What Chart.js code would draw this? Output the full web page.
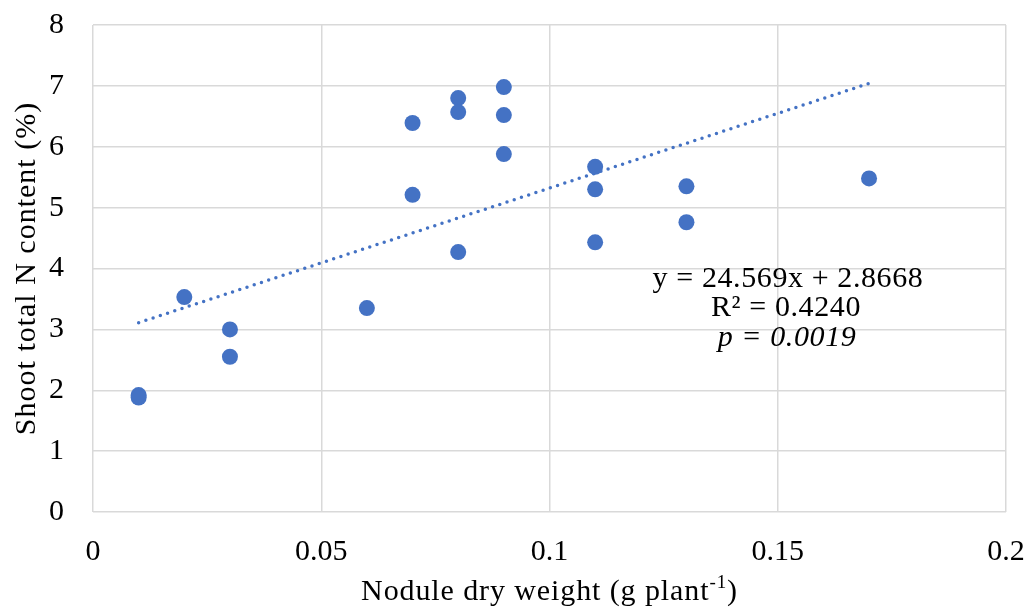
<!DOCTYPE html>
<html>
<head>
<meta charset="utf-8">
<script src="https://cdn.jsdelivr.net/npm/chart.js@4/dist/chart.umd.min.js"></script>
<style>
  html, body { margin:0; padding:0; background:#fff; }
  #wrap { width:1028px; height:608px; position:relative; }
</style>
</head>
<body>
<div id="wrap"><canvas id="chart_scatter"></canvas></div>
<script>
// nodule dry weight (g plant-1) vs shoot total N (%)
var noduleWeight = [0.01, 0.01, 0.02, 0.03, 0.03, 0.06, 0.07, 0.07, 0.08, 0.08,
                    0.08, 0.09, 0.09, 0.09, 0.11, 0.11, 0.11, 0.13, 0.13, 0.17];
var shootN = [1.92, 1.88, 3.53, 3.00, 2.55, 3.35, 6.39, 5.21, 6.80, 6.57,
              4.27, 6.98, 6.52, 5.88, 5.67, 5.30, 4.43, 5.35, 4.76, 5.48];

// linear trendline end points
var trendX = [0.01, 0.17];
var trendY = [3.11, 7.04];

var equationLines = ["y = 24.569x + 2.8668", "R\u00B2 = 0.4240", "p = 0.0019"];
var xTitle = "Nodule dry weight (g plant";
var xTitleSup = "-1";
var yTitle = "Shoot total N content (%)";

var fontFamily = "'Liberation Serif', 'Times New Roman', serif";
var blue = "#4472C4";

var arrayPoints = [];
for (var i = 0; i < noduleWeight.length; i++) {
  arrayPoints.push({x: noduleWeight[i], y: shootN[i]});
}
var arrayTrend = [];
for (var j = 0; j < trendX.length; j++) {
  arrayTrend.push({x: trendX[j], y: trendY[j]});
}

var textPlugin = {
  id: "textPlugin",
  afterDraw: function(chart) {
    var ctx = chart.ctx;
    ctx.save();
    ctx.fillStyle = "#000";

    // x axis title with superscript
    ctx.textBaseline = "alphabetic";
    ctx.textAlign = "left";
    ctx.letterSpacing = "0.9px";
    ctx.font = "30px " + fontFamily;
    var w1 = ctx.measureText(xTitle).width;
    ctx.font = "19px " + fontFamily;
    var w2 = ctx.measureText(xTitleSup).width;
    ctx.font = "30px " + fontFamily;
    var w3 = ctx.measureText(")").width;
    var cx = (chart.chartArea.left + chart.chartArea.right) / 2;
    var sx = cx - (w1 + w2 + w3) / 2;
    ctx.fillText(xTitle, sx, 600);
    ctx.font = "19px " + fontFamily;
    ctx.fillText(xTitleSup, sx + w1, 588);
    ctx.font = "30px " + fontFamily;
    ctx.fillText(")", sx + w1 + w2, 600);

    // y axis title
    ctx.save();
    ctx.letterSpacing = "1px";
    ctx.translate(35, (chart.chartArea.top + chart.chartArea.bottom) / 2);
    ctx.rotate(-Math.PI / 2);
    ctx.textAlign = "center";
    ctx.fillText(yTitle, 0, 0);
    ctx.restore();

    // trendline equation
    ctx.textAlign = "center";
    ctx.letterSpacing = "0.6px";
    ctx.font = "30px " + fontFamily;
    ctx.fillText(equationLines[0], 788, 287);
    ctx.fillText(equationLines[1], 786, 316);
    ctx.font = "italic 30px " + fontFamily;
    ctx.fillText(equationLines[2], 787, 346);
    ctx.restore();
  }
};

var config = {
  type: "scatter",
  data: {
    datasets: [{
        label: "Shoot N",
        data: arrayPoints,
        backgroundColor: blue,
        borderColor: blue,
        pointRadius: 8,
        pointBorderWidth: 0,
        order: 1
      }, {
        label: "Trend",
        type: "line",
        data: arrayTrend,
        showLine: true,
        borderColor: blue,
        borderWidth: 3.5,
        borderDash: [0, 7.6],
        borderCapStyle: "round",
        pointRadius: 0,
        fill: false,
        order: 2
      }]
  },
  options: {
    responsive: true,
    maintainAspectRatio: false,
    animation: false,
    layout: { padding: { top: 25, right: 22, left: 0, bottom: 0 } },
    plugins: {
      legend: { display: false },
      tooltip: { enabled: false }
    },
    scales: {
      x: {
        type: "linear",
        min: 0,
        max: 0.2,
        ticks: {
          stepSize: 0.05,
          padding: 22,
          color: "#000",
          font: { family: fontFamily, size: 30 },
          callback: function(v) { return String(+v.toFixed(2)); }
        },
        grid: { color: "#d9d9d9", lineWidth: 1.5, drawTicks: false },
        border: { display: false },
        afterFit: function(scale) {
          scale.height = 96;
          scale.paddingLeft = 0;
          scale.paddingRight = 0;
        }
      },
      y: {
        min: 0,
        max: 8,
        ticks: {
          stepSize: 1,
          padding: 29,
          color: "#000",
          font: { family: fontFamily, size: 30 }
        },
        grid: { color: "#d9d9d9", lineWidth: 1.5, drawTicks: false },
        border: { display: false },
        afterFit: function(scale) {
          scale.width = 93;
          scale.paddingTop = 0;
          scale.paddingBottom = 0;
        }
      }
    }
  },
  plugins: [textPlugin]
};

new Chart(document.getElementById("chart_scatter").getContext("2d"), config);
</script>
</body>
</html>
